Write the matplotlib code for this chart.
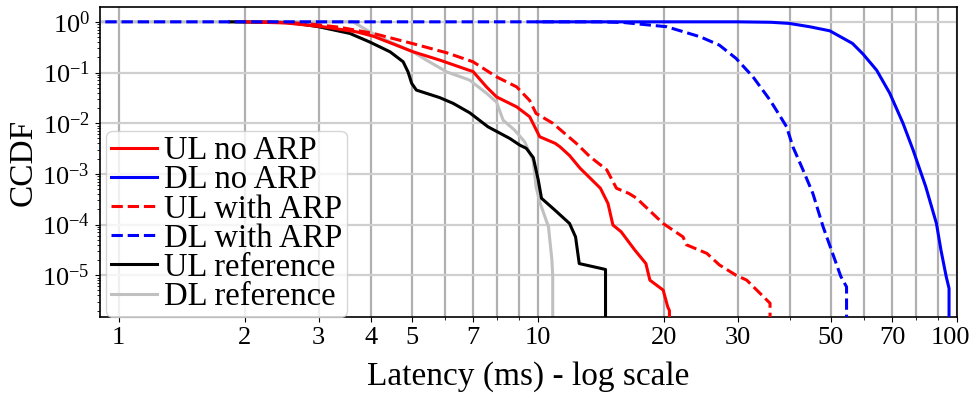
import numpy as np
import matplotlib
matplotlib.use("Agg")
import matplotlib.pyplot as plt
import matplotlib.transforms as mtransforms
from matplotlib.ticker import FixedLocator, NullFormatter, LogLocator

plt.rcParams['font.family'] = ['Liberation Serif', 'DejaVu Serif']
plt.rcParams['mathtext.fontset'] = 'custom'
plt.rcParams['mathtext.rm'] = 'Liberation Serif'

# CCDF curves: latency (ms) and CCDF value
ul_noarp_x = [2.0, 2.5, 3.07, 3.69, 4.05, 5.04, 5.83, 6.87, 7.0, 7.54, 7.97, 8.9, 9.56, 10.1,
              11.0, 11.3, 11.9, 12.6, 14.1, 14.7, 15.1, 15.8, 17.0, 18.1, 18.5, 19.9, 20.4, 20.6, 20.6]
ul_noarp_y = [1.0, 0.95, 0.8, 0.635, 0.52, 0.256, 0.176, 0.11, 0.105, 0.052, 0.033, 0.021, 0.0134, 0.0054,
              0.004, 0.0034, 0.0023, 0.0013, 5.2e-4, 2.6e-4, 9.8e-5, 7.2e-5, 3.2e-5, 1.7e-5, 8e-6, 5.1e-6, 2.4e-6, 2.0e-6, 1e-6]

dl_noarp_x = [10, 30, 36, 39.8, 44.5, 49.7, 56.3, 59.7, 64.3, 69.1, 74.3, 78.5, 84.2, 89.3, 91.5, 94.2, 95.7, 95.7]
dl_noarp_y = [1.0, 1.0, 0.98, 0.93, 0.8, 0.665, 0.375, 0.23, 0.111, 0.039, 0.01, 0.003, 5.6e-4, 1.05e-4, 3.2e-5, 9.5e-6, 5.5e-6, 1e-6]

ul_arp_x = [2.2, 2.8, 3.37, 4.05, 5.04, 6.06, 7.0, 7.97, 8.9, 9.56, 9.9, 10.85, 12.35, 13.3, 14.6, 15.4, 16.5,
            17.2, 19.9, 22.2, 22.6, 25.3, 27.1, 29.7, 31.5, 35.8, 35.8]
ul_arp_y = [1.0, 0.93, 0.78, 0.59, 0.37, 0.245, 0.163, 0.082, 0.052, 0.028, 0.0156, 0.01, 0.004, 0.0022, 0.0012, 5.2e-4, 4.1e-4,
            3.3e-4, 1.05e-4, 5.7e-5, 4e-5, 2.7e-5, 1.6e-5, 1e-5, 8e-6, 2.8e-6, 1e-6]

dl_arp_x = [0.85, 14, 16, 20.3, 24.4, 27.1, 29.7, 32.6, 35.8, 37.9, 39.2, 40.6, 42.9, 45.3, 47.9, 49.8, 52.8, 54.5, 54.5]
dl_arp_y = [1.0, 1.0, 0.97, 0.8, 0.506, 0.347, 0.19, 0.082, 0.0285, 0.0134, 0.0085, 0.0034, 0.0012, 4.1e-4, 9.1e-5, 3.7e-5, 9.5e-6, 5.9e-6, 1e-6]

ul_ref_x = [1.84, 2.56, 3.0, 3.56, 3.97, 4.44, 4.77, 4.90, 5.0, 5.13, 5.83, 6.28, 6.88, 7.6, 8.57, 9.05, 9.38, 9.75,
            10.02, 10.2, 11.0, 11.9, 12.3, 12.55, 14.1, 14.5, 14.5]
ul_ref_y = [1.0, 0.97, 0.8, 0.59, 0.40, 0.256, 0.163, 0.103, 0.061, 0.045, 0.032, 0.0246, 0.016, 0.0085, 0.005, 0.0037, 0.0032, 0.0021,
            7.6e-4, 3.3e-4, 1.9e-4, 1.05e-4, 5.7e-5, 1.7e-5, 1.37e-5, 1.3e-5, 1e-6]

dl_ref_x = [0.85, 3.62, 3.97, 4.35, 5.03, 5.42, 6.06, 6.87, 7.54, 7.97, 8.26, 8.8, 9.3, 9.75, 9.9, 10.1, 10.6, 10.8, 10.85, 10.85]
dl_ref_y = [1.0, 1.0, 0.635, 0.435, 0.256, 0.176, 0.103, 0.071, 0.039, 0.026, 0.0115, 0.0073, 0.0043, 0.0018, 5.6e-4, 2.8e-4, 9e-5, 2e-5, 9.5e-6, 1e-6]

x_major = [1, 2, 3, 4, 5, 7, 10, 20, 30, 50, 70, 100]
x_minor = [6, 8, 9, 40, 60, 80, 90]

fig = plt.figure(figsize=(9.73, 3.96), dpi=100)
ax = fig.add_axes([0.1023, 0.1995, 0.8813, 0.7825])

series = [
    (ul_noarp_x, ul_noarp_y, 'UL no ARP', dict(color='#ff0000', ls='-', zorder=4)),
    (dl_noarp_x, dl_noarp_y, 'DL no ARP', dict(color='#0000ff', ls='-', zorder=5)),
    (ul_arp_x, ul_arp_y, 'UL with ARP', dict(color='#ff0000', ls='--', zorder=6)),
    (dl_arp_x, dl_arp_y, 'DL with ARP', dict(color='#0000ff', ls='--', zorder=7)),
    (ul_ref_x, ul_ref_y, 'UL reference', dict(color='black', ls='-', zorder=3)),
    (dl_ref_x, dl_ref_y, 'DL reference', dict(color='#c0c0c0', ls='-', zorder=2)),
]
for xs, ys, lab, kw in series:
    ax.plot(xs, ys, lw=2.2, label=lab, **kw)

ax.set_xscale('log')
ax.set_yscale('log')
ax.set_xlim(0.9, 100)
ax.set_ylim(1.5e-6, 1.95)

ax.xaxis.set_major_locator(FixedLocator(x_major))
ax.set_xticklabels([str(v) for v in x_major])
ax.xaxis.set_minor_locator(FixedLocator(x_minor))
ax.xaxis.set_minor_formatter(NullFormatter())
ax.yaxis.set_major_locator(LogLocator(base=10, numticks=20))
ax.yaxis.set_minor_locator(LogLocator(base=10, subs=np.arange(2, 10), numticks=20))
ax.yaxis.set_minor_formatter(NullFormatter())

ax.grid(True, which='both', axis='x', color='#b0b0b0', lw=1.6)
ax.grid(True, which='major', axis='y', color='#cfcfcf', lw=1.6)
ax.set_axisbelow(True)

ax.tick_params(axis='both', which='major', labelsize=19)
for s in ax.spines.values():
    s.set_linewidth(1.2)

# the last label sits a little left of its tick, as in the source figure
last = ax.get_xticklabels()[-1]
last.set_transform(last.get_transform() + mtransforms.ScaledTranslation(-7 / 100, 0, fig.dpi_scale_trans))

ax.set_xlabel('Latency (ms) - log scale', fontsize=24, labelpad=9)
ax.set_ylabel('CCDF', fontsize=24, labelpad=2)

ax.legend(loc='lower left', bbox_to_anchor=(0.008, 0.0), borderaxespad=0, fontsize=23.5,
          handlelength=1.4, handletextpad=0.2, labelspacing=-0.04, borderpad=0.15, framealpha=0.8)

fig.savefig('out.png', dpi=100)
